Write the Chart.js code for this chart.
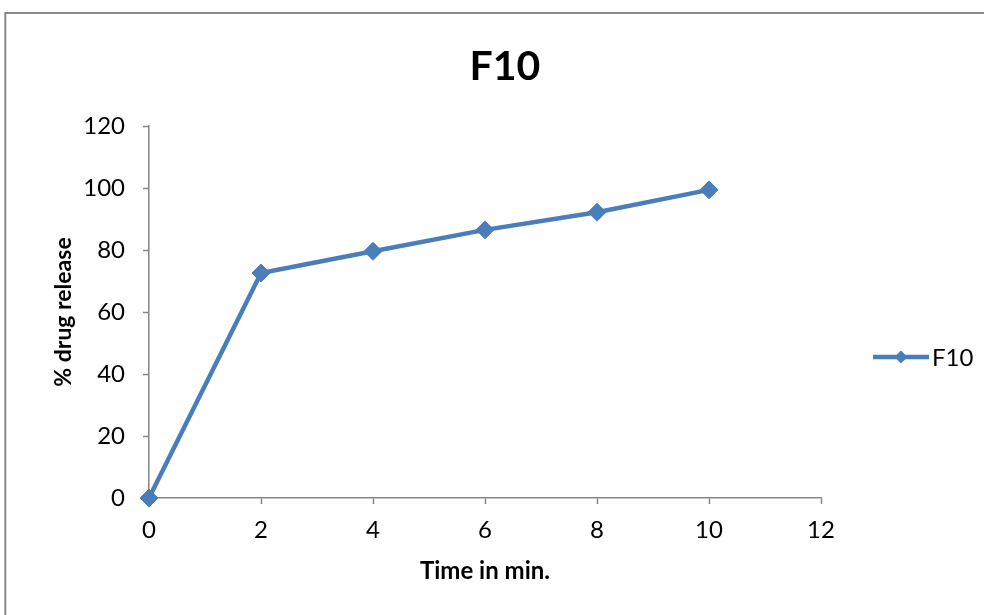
<!DOCTYPE html>
<html>
<head>
<meta charset="utf-8">
<style>
  html, body { margin: 0; padding: 0; background: #ffffff; }
  #wrap { position: relative; width: 984px; height: 615px; }
</style>
<script src="https://cdn.jsdelivr.net/npm/chart.js@4/dist/chart.umd.min.js"></script>
</head>
<body>
<div id="wrap"><canvas id="c" width="984" height="615"></canvas></div>
<script>
// Dissolution profile of formulation F10
const seriesName = 'F10';
const times = [0, 2, 4, 6, 8, 10];            // min
const release = [0, 72.6, 79.6, 86.5, 92.2, 99.4]; // % drug release
const xTicks = [0, 2, 4, 6, 8, 10, 12];
const yTicks = [0, 20, 40, 60, 80, 100, 120];
const chartTitle = 'F10';
const xTitle = 'Time in min.';
const yTitle = '% drug release';

const FONT = "Lato, 'Open Sans', 'Liberation Sans', sans-serif";
const BLUE = '#4a7ebb';
const AXIS = '#868686';

// Outer frame, chart title and the side legend
const decorations = {
  id: 'decorations',
  afterDraw(chart) {
    const ctx = chart.ctx;
    ctx.save();
    ctx.strokeStyle = '#8a8a8a';
    ctx.lineWidth = 2;
    ctx.strokeRect(5.3, 13, 1400, 1400);

    ctx.fillStyle = '#000';
    ctx.font = 'bold 41px ' + FONT;
    ctx.textAlign = 'center';
    ctx.textBaseline = 'alphabetic';
    ctx.fillText(chartTitle, 505, 79.5);

    const ds = chart.data.datasets[0];
    ctx.strokeStyle = ds.borderColor;
    ctx.lineWidth = ds.borderWidth;
    ctx.beginPath();
    ctx.moveTo(873, 357);
    ctx.lineTo(929, 357);
    ctx.stroke();
    ctx.fillStyle = ds.pointBackgroundColor;
    const r = 6.5;
    ctx.beginPath();
    ctx.moveTo(901, 357 - r);
    ctx.lineTo(901 + r, 357);
    ctx.lineTo(901, 357 + r);
    ctx.lineTo(901 - r, 357);
    ctx.closePath();
    ctx.fill();

    ctx.fillStyle = '#000';
    ctx.font = '24px ' + FONT;
    ctx.textAlign = 'left';
    ctx.textBaseline = 'middle';
    ctx.fillText(ds.label, 932, 358);
    ctx.restore();
  }
};

new Chart(document.getElementById('c'), {
  type: 'line',
  data: {
    datasets: [{
      label: seriesName,
      data: times.map((t, i) => ({ x: t, y: release[i] })),
      borderColor: BLUE,
      backgroundColor: BLUE,
      pointBackgroundColor: BLUE,
      pointBorderColor: BLUE,
      borderWidth: 4.5,
      pointStyle: 'rectRot',
      pointRadius: 9,
      pointBorderWidth: 1,
      pointHoverRadius: 9,
      tension: 0,
      clip: false
    }]
  },
  options: {
    responsive: false,
    animation: false,
    events: [],
    layout: { padding: { top: 126, right: 163, bottom: 0, left: 0 } },
    plugins: {
      legend: { display: false },
      title: { display: false },
      tooltip: { enabled: false }
    },
    scales: {
      x: {
        type: 'linear',
        min: 0,
        max: 12,
        afterBuildTicks: s => { s.ticks = xTicks.map(v => ({ value: v })); },
        afterFit: s => { s.height = 117; },
        grid: { display: true, drawOnChartArea: false, drawTicks: true, tickLength: 6, tickColor: AXIS, tickWidth: 1.5 },
        border: { display: true, color: AXIS, width: 1.5 },
        ticks: { color: '#000', font: { family: FONT, size: 24 }, padding: 12, maxRotation: 0, autoSkip: false },
        title: { display: true, text: xTitle, color: '#000', font: { family: FONT, size: 24, weight: 'bold' }, padding: { top: 0, bottom: 29 } }
      },
      y: {
        min: 0,
        max: 120,
        afterBuildTicks: s => { s.ticks = yTicks.map(v => ({ value: v })); },
        afterFit: s => { s.width = 149; },
        grid: { display: true, drawOnChartArea: false, drawTicks: true, tickLength: 6, tickColor: AXIS, tickWidth: 1.5 },
        border: { display: true, color: AXIS, width: 1.5 },
        ticks: { color: '#000', font: { family: FONT, size: 24 }, padding: 18, autoSkip: false },
        title: { display: true, text: yTitle, color: '#000', font: { family: FONT, size: 23, weight: 'bold' }, padding: { top: 50, bottom: 0 } }
      }
    }
  },
  plugins: [decorations]
});
</script>
</body>
</html>
